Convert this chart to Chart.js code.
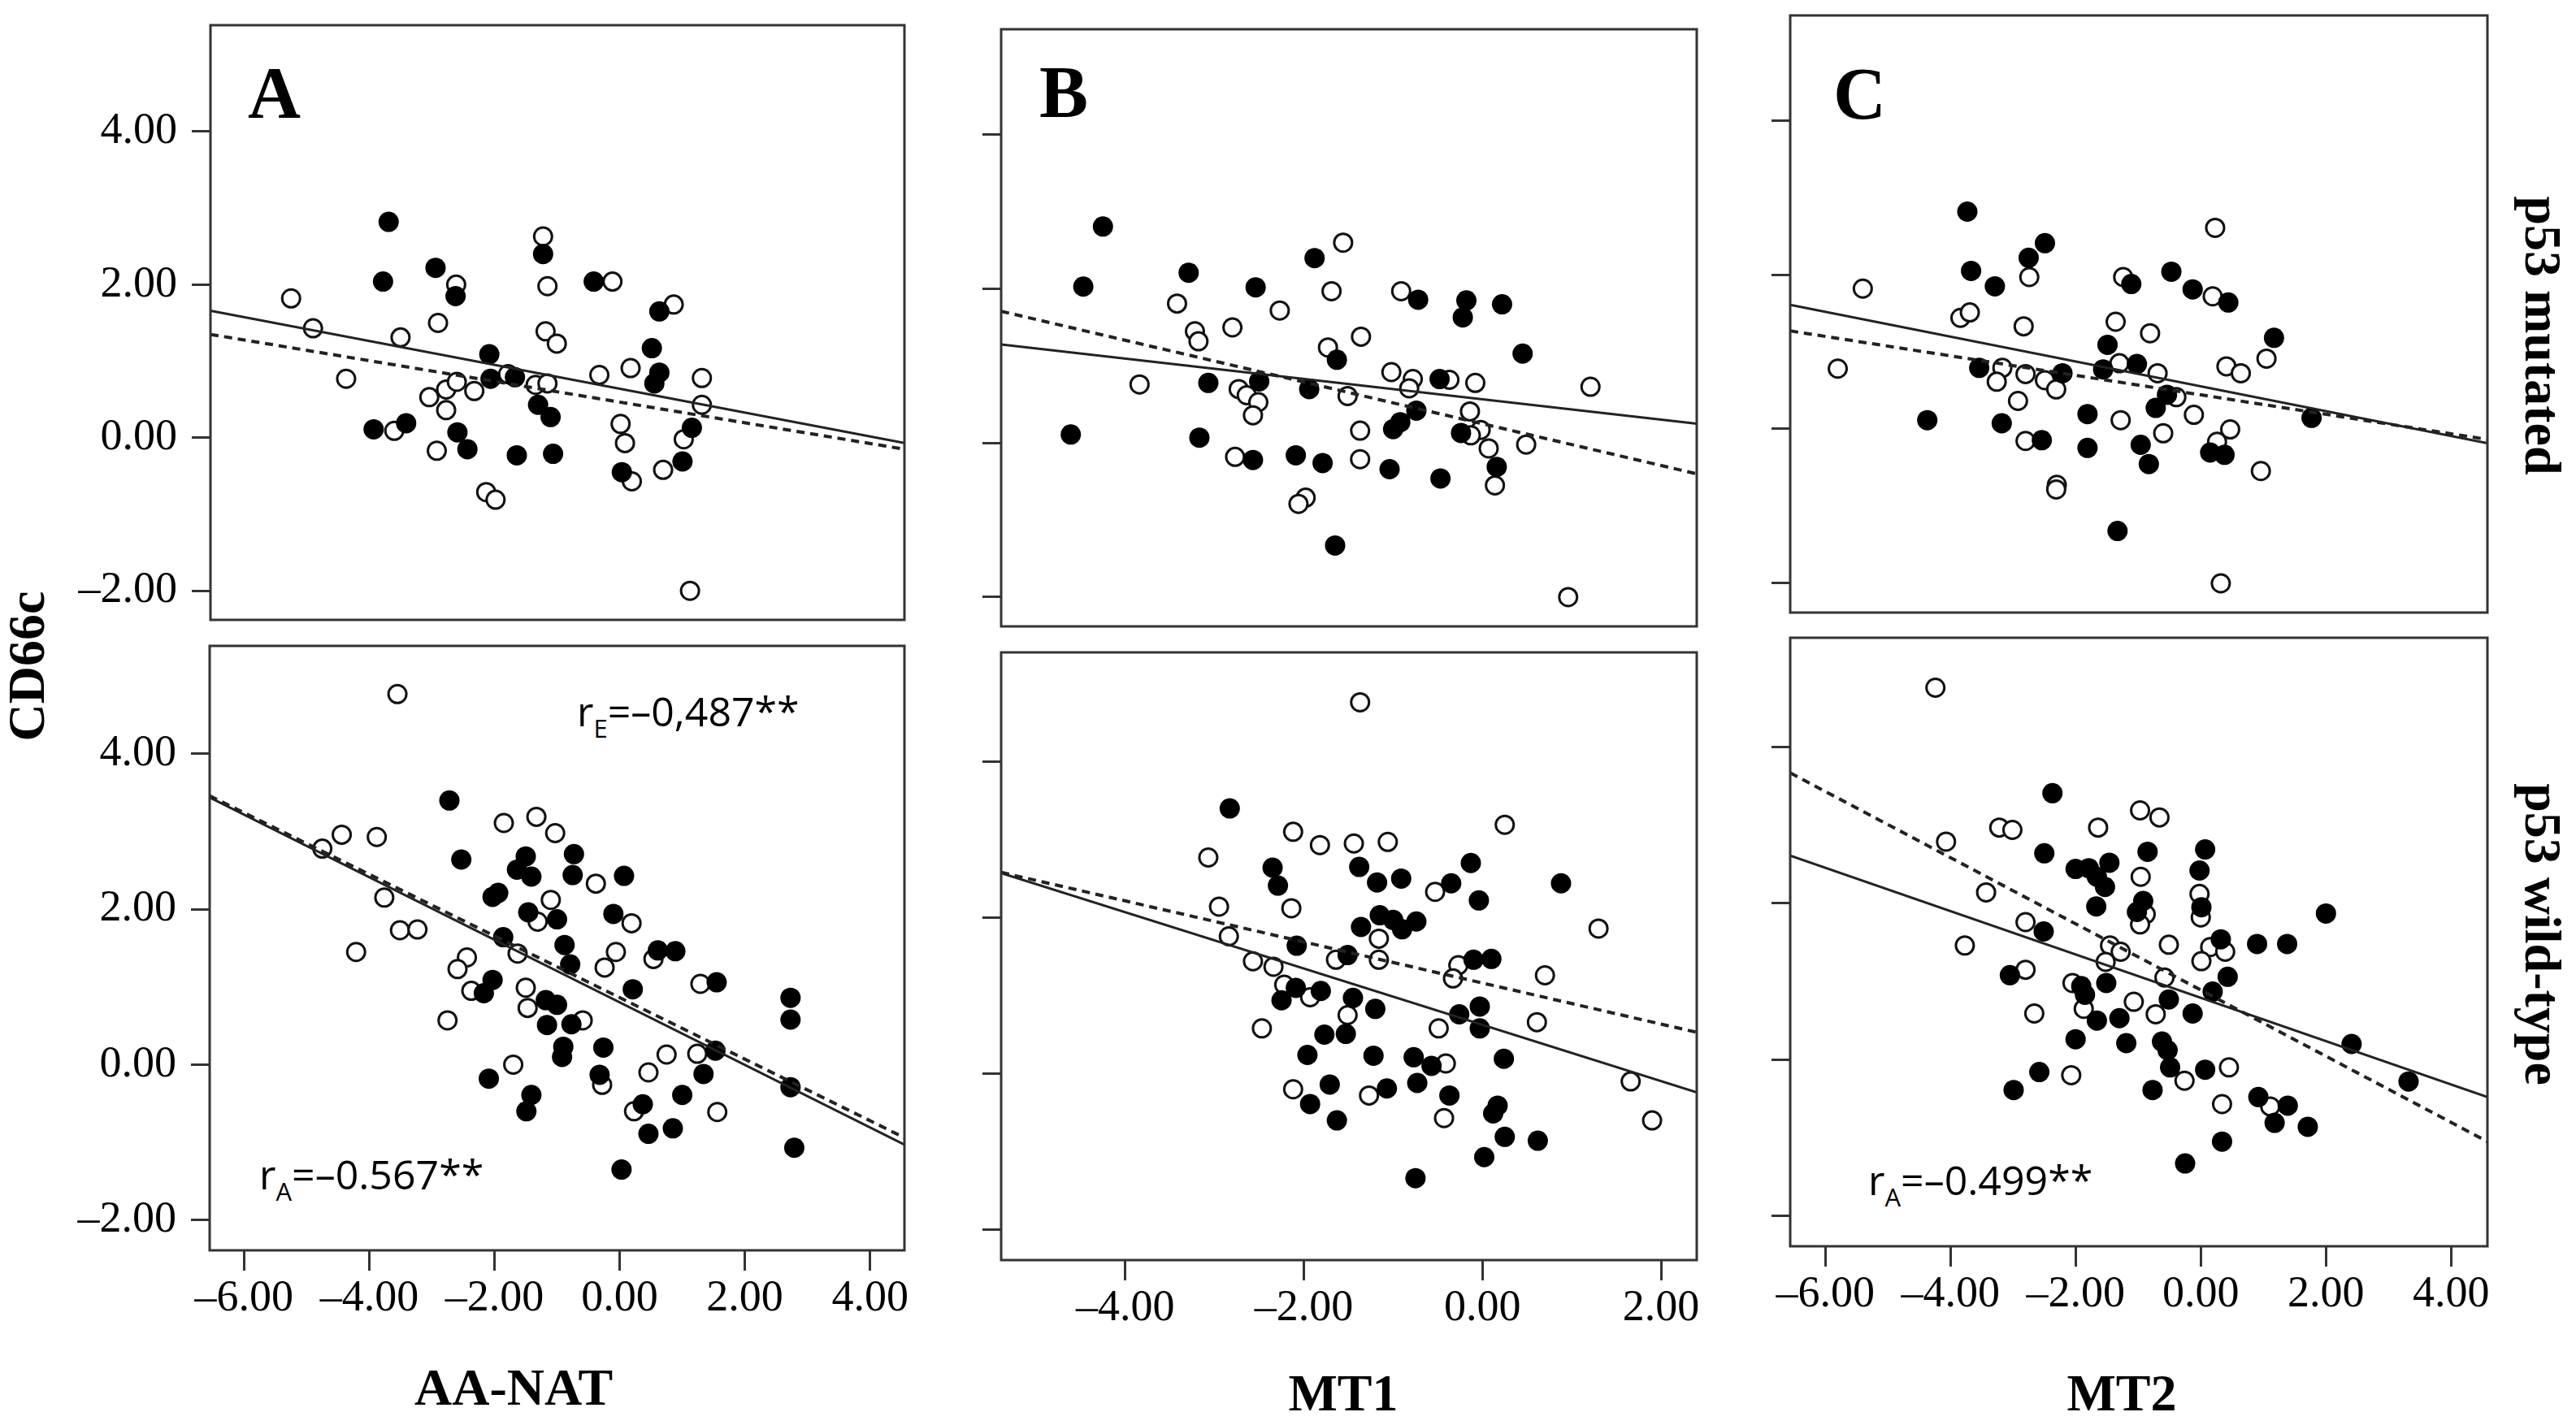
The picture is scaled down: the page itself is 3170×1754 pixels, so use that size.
<!DOCTYPE html>
<html>
<head>
<meta charset="utf-8">
<script src="https://cdn.jsdelivr.net/npm/chart.js@4.4.1/dist/chart.umd.min.js"></script>
<style>
  html, body { margin: 0; padding: 0; background: #fff; }
  body { width: 3170px; height: 1754px; position: relative; overflow: hidden; }
  canvas { position: absolute; }
  .lbl { position: absolute; font-family: 'Liberation Serif', 'Times New Roman', serif; font-weight: bold;
         color: #000; white-space: nowrap; line-height: 1; font-size: 64px; }
  .ctr { width: 600px; text-align: center; }
  .letter { font-size: 90px; }
  .rot { transform: translate(-50%, -50%) rotate(-90deg); }
  .rot90 { transform: translate(-50%, -50%) rotate(90deg); }
  .r { position: absolute; font-family: 'Open Sans', 'Noto Sans', sans-serif; font-size: 50px; line-height: 1;
       color: #000; white-space: nowrap; }
  .r span { font-size: 0.62em; vertical-align: -0.45em; }
</style>
</head>
<body>

<div class="lbl rot" style="left:33px; top:820px;">CD66c</div>
<div class="lbl rot90" style="left:3129px; top:413px;">p53 mutated</div>
<div class="lbl rot90" style="left:3129px; top:1150px;">p53 wild-type</div>

<div class="lbl ctr" style="left:332px; top:1676px;">AA-NAT</div>
<div class="lbl ctr" style="left:1353px; top:1683px;">MT1</div>
<div class="lbl ctr" style="left:2311px; top:1683px;">MT2</div>

<div class="lbl letter" style="left:305px; top:70px;">A</div>
<div class="lbl letter" style="left:1279px; top:69px;">B</div>
<div class="lbl letter" style="left:2256px; top:71px;">C</div>

<div class="r" style="left:710px; top:850px;">r<span>E</span>=–0,487**</div>
<div class="r" style="left:319px; top:1420px;">r<span>A</span>=–0.567**</div>
<div class="r" style="left:2299px; top:1427px;">r<span>A</span>=–0.499**</div>

<script>
// tick values
const yTicks = [-2, 0, 2, 4];
const xTicksWide = [-6, -4, -2, 0, 2, 4];
const xTicksMT1 = [-4, -2, 0, 2];

// axis limits
const yRange = [-2.39, 5.39];
const xRangeAA = [-6.55, 4.55];
const xRangeMT1 = [-5.39, 2.40];
const xRangeMT2 = [-6.56, 4.58];

// ---- A: AA-NAT, p53 mutated ----
const aTopOpen = [[-5.26,1.82],[-4.91,1.43],[-3.51,1.31],[-2.91,1.50],[-2.62,2.00],[-1.23,2.63],[-1.16,1.98],
  [-1.19,1.39],[-1.01,1.23],[-0.12,2.04],[0.86,1.74],[-4.38,0.77],[-3.05,0.53],[-2.78,0.63],[-2.61,0.73],
  [-2.33,0.61],[-2.78,0.36],[-1.79,0.83],[-1.35,0.69],[-1.16,0.71],[-0.33,0.82],[0.17,0.91],[1.31,0.78],
  [1.31,0.43],[-3.61,0.09],[-2.93,-0.17],[0.01,0.18],[0.08,-0.07],[1.02,-0.02],[0.69,-0.42],[0.19,-0.57],
  [-2.14,-0.71],[-1.99,-0.81],[1.12,-2.00]];
const aTopFilled = [[-3.70,2.82],[-3.79,2.04],[-2.95,2.22],[-2.63,1.85],[-1.23,2.40],[-0.42,2.04],[0.63,1.65],
  [0.51,1.17],[0.63,0.85],[0.55,0.71],[-2.09,1.09],[-2.07,0.77],[-1.68,0.79],[-1.31,0.43],[-1.11,0.27],
  [-3.94,0.11],[-3.42,0.19],[-2.60,0.07],[-2.44,-0.15],[-1.65,-0.23],[-1.07,-0.21],[1.15,0.13],[1.00,-0.31],
  [0.03,-0.45]];
const aTopSolid = [[-6.55,1.66],[4.55,-0.07]];
const aTopDashed = [[-6.55,1.35],[4.55,-0.15]];

// ---- A: AA-NAT, p53 wild-type ----
const aBotOpen = [[-3.55,4.77],[-4.75,2.78],[-4.44,2.96],[-3.88,2.93],[-3.76,2.15],[-3.51,1.73],[-3.23,1.74],
  [-4.21,1.45],[-1.85,3.11],[-1.33,3.19],[-1.03,2.98],[-0.38,2.33],[-1.10,2.12],[-1.31,1.84],[0.19,1.82],
  [-1.63,1.43],[-2.44,1.38],[-2.59,1.23],[-0.06,1.45],[-0.24,1.25],[-2.37,0.95],[-1.50,0.99],[-1.47,0.73],
  [-2.75,0.57],[-0.59,0.57],[0.54,1.36],[1.29,1.04],[1.24,0.14],[0.75,0.13],[-1.70,0.00],[0.46,-0.10],
  [-0.28,-0.26],[0.23,-0.60],[1.56,-0.61]];
const aBotFilled = [[-2.72,3.40],[-2.53,2.64],[-1.50,2.68],[-1.64,2.51],[-1.41,2.42],[-0.73,2.71],[-0.75,2.44],
  [0.07,2.43],[-2.03,2.16],[-1.94,2.21],[-1.46,1.96],[-1.00,1.87],[-0.10,1.94],[-1.86,1.64],[-0.88,1.54],
  [-0.79,1.29],[0.61,1.47],[0.89,1.46],[0.21,0.97],[1.55,1.06],[-2.03,1.09],[-2.17,0.92],[-1.18,0.83],
  [-1.00,0.77],[-1.16,0.51],[-0.77,0.52],[-0.90,0.23],[-0.92,0.10],[-0.26,0.22],[2.73,0.86],[2.73,0.58],
  [1.53,0.18],[1.34,-0.12],[-2.09,-0.18],[-0.32,-0.13],[2.73,-0.29],[1.00,-0.39],[-1.41,-0.39],[-1.49,-0.60],
  [0.37,-0.51],[0.46,-0.89],[0.85,-0.82],[2.79,-1.07],[0.03,-1.35]];
const aBotSolid = [[-6.55,3.44],[4.55,-1.03]];
const aBotDashed = [[-6.55,3.46],[4.55,-0.94]];

// ---- B: MT1, p53 mutated ----
const bTopOpen = [[-3.84,0.76],[-3.42,1.81],[-3.22,1.45],[-3.18,1.32],[-2.80,1.50],[-2.27,1.72],[-1.69,1.97],
  [-1.56,2.60],[-1.73,1.24],[-1.36,1.38],[-0.91,1.97],[-2.73,0.70],[-2.64,0.62],[-2.51,0.53],[-2.57,0.36],
  [-1.51,0.61],[-1.02,0.92],[-0.78,0.83],[-0.82,0.71],[-0.37,0.82],[-0.08,0.78],[-0.14,0.41],[-0.02,0.17],
  [-0.13,0.10],[0.07,-0.07],[0.49,-0.02],[0.14,-0.55],[1.21,0.73],[-1.37,0.16],[-2.77,-0.18],[-1.37,-0.21],
  [-1.98,-0.71],[-2.06,-0.79],[0.96,-2.00]];
const bTopFilled = [[-4.25,2.81],[-4.47,2.03],[-4.61,0.11],[-3.29,2.21],[-2.54,2.02],[-1.88,2.40],[-0.72,1.86],
  [-0.18,1.85],[-0.22,1.63],[0.22,1.80],[0.45,1.16],[-1.63,1.08],[-3.07,0.78],[-2.50,0.80],[-1.94,0.70],
  [-0.48,0.83],[-0.74,0.42],[-0.92,0.27],[-1.00,0.18],[-0.24,0.13],[-3.17,0.07],[-2.57,-0.22],[-2.09,-0.16],
  [-1.79,-0.26],[-1.04,-0.34],[-0.47,-0.46],[0.16,-0.31],[-1.65,-1.33]];
const bTopSolid = [[-5.39,1.28],[2.40,0.25]];
const bTopDashed = [[-5.39,1.71],[2.40,-0.40]];

// ---- B: MT1, p53 wild-type ----
const bBotOpen = [[-1.37,4.76],[-3.07,2.77],[-2.12,3.10],[-1.82,2.93],[-1.44,2.95],[-1.06,2.97],[0.25,3.19],
  [-2.95,2.14],[-2.14,2.12],[-0.53,2.33],[1.30,1.86],[-2.84,1.76],[-2.57,1.44],[-2.34,1.37],[-2.22,1.14],
  [-1.93,0.98],[-1.64,1.46],[-1.16,1.73],[-1.16,1.46],[-0.27,1.39],[-0.33,1.22],[0.70,1.26],[-1.51,0.75],
  [-2.47,0.58],[-0.49,0.58],[0.61,0.66],[-0.41,0.13],[-2.12,-0.20],[-1.27,-0.28],[-0.43,-0.57],[1.66,-0.10],
  [1.90,-0.60]];
const bBotFilled = [[-2.83,3.40],[-2.35,2.64],[-2.29,2.41],[-1.38,2.65],[-1.18,2.45],[-0.91,2.50],[-0.13,2.70],
  [-0.35,2.44],[-0.04,2.22],[0.88,2.44],[-1.15,2.03],[-1.00,1.97],[-0.90,1.85],[-0.74,1.95],[-1.36,1.88],
  [-2.08,1.64],[-1.51,1.52],[-0.10,1.46],[0.10,1.47],[-2.09,1.10],[-2.25,0.94],[-1.81,1.06],[-1.45,0.97],
  [-1.20,0.83],[-0.26,0.76],[-0.03,0.86],[-0.03,0.58],[-1.77,0.50],[-1.53,0.51],[-1.96,0.24],[-1.22,0.23],
  [-0.77,0.21],[-0.57,0.10],[0.24,0.19],[-1.71,-0.14],[-1.93,-0.39],[-1.07,-0.19],[-0.73,-0.12],[-0.37,-0.28],
  [0.17,-0.41],[0.12,-0.51],[-1.63,-0.60],[0.25,-0.81],[0.62,-0.86],[0.02,-1.07],[-0.75,-1.34]];
const bBotSolid = [[-5.39,2.57],[2.40,-0.24]];
const bBotDashed = [[-5.39,2.58],[2.40,0.53]];

// ---- C: MT2, p53 mutated ----
const cTopOpen = [[-5.40,1.82],[-5.80,0.78],[-3.84,1.44],[-3.69,1.51],[-2.83,1.33],[-2.74,1.97],[-1.24,1.97],
  [-1.36,1.39],[-0.81,1.24],[0.23,2.61],[0.19,1.72],[-3.17,0.79],[-3.26,0.61],[-2.80,0.71],[-2.49,0.63],
  [-2.31,0.51],[-2.92,0.36],[-1.30,0.85],[-0.69,0.72],[-0.39,0.41],[0.41,0.81],[0.64,0.72],[1.05,0.91],
  [-0.11,0.18],[0.47,-0.01],[-1.28,0.11],[-0.60,-0.06],[-2.80,-0.16],[0.26,-0.17],[0.96,-0.55],[-2.30,-0.73],
  [-2.31,-0.79],[0.32,-2.01]];
const cTopFilled = [[-3.73,2.82],[-2.49,2.41],[-2.75,2.22],[-3.67,2.05],[-3.29,1.85],[-1.11,1.88],[-0.47,2.04],
  [-0.13,1.81],[0.44,1.64],[1.17,1.18],[-1.49,1.09],[-3.54,0.79],[-2.21,0.72],[-1.56,0.77],[-1.02,0.84],
  [-0.54,0.44],[-0.72,0.27],[-4.37,0.11],[-3.18,0.07],[-1.81,0.19],[-2.54,-0.15],[-1.81,-0.25],[-0.96,-0.21],
  [-0.83,-0.46],[0.15,-0.31],[0.38,-0.34],[1.77,0.14],[-1.33,-1.33]];
const cTopSolid = [[-6.56,1.61],[4.58,-0.19]];
const cTopDashed = [[-6.56,1.27],[4.58,-0.14]];

// ---- C: MT2, p53 wild-type ----
const cBotOpen = [[-4.24,4.76],[-4.07,2.79],[-3.22,2.97],[-3.01,2.94],[-1.64,2.97],[-0.97,3.19],[-0.66,3.10],
  [-3.43,2.14],[-2.80,1.76],[-3.77,1.46],[-0.96,2.34],[-0.02,2.12],[0.00,1.82],[-0.88,1.86],[-0.97,1.73],
  [-1.45,1.46],[-1.28,1.38],[-1.52,1.25],[-0.51,1.47],[0.15,1.44],[0.39,1.38],[0.01,1.26],[-2.80,1.15],
  [-2.05,0.98],[-0.58,1.05],[-1.07,0.74],[-1.87,0.65],[-0.72,0.58],[-2.66,0.59],[-2.07,-0.20],[0.45,-0.10],
  [-0.26,-0.27],[0.34,-0.57],[1.11,-0.60]];
const cBotFilled = [[-2.37,3.41],[-2.50,2.64],[-0.85,2.66],[0.07,2.69],[-2.00,2.44],[-1.79,2.45],[-1.46,2.52],
  [-1.66,2.34],[-1.53,2.21],[-0.02,2.42],[-1.67,1.96],[-0.92,2.03],[-1.02,1.89],[0.01,1.95],[2.00,1.87],
  [-2.51,1.64],[0.32,1.54],[0.90,1.48],[1.38,1.48],[0.43,1.06],[-3.05,1.08],[-1.91,0.94],[-1.85,0.83],
  [-1.51,0.98],[0.19,0.87],[-0.51,0.77],[-0.13,0.59],[-1.66,0.50],[-1.30,0.53],[-2.00,0.26],[-1.19,0.21],
  [-0.62,0.23],[-0.53,0.12],[-0.49,-0.10],[0.07,-0.13],[2.41,0.20],[3.32,-0.28],[-2.58,-0.16],[-2.99,-0.39],
  [-0.77,-0.39],[0.92,-0.48],[1.39,-0.59],[1.18,-0.81],[1.71,-0.86],[0.34,-1.05],[-0.25,-1.33]];
const cBotSolid = [[-6.56,2.61],[4.58,-0.48]];
const cBotDashed = [[-6.56,3.67],[4.58,-1.05]];

// panel placement (plot-area box in page pixels)
const panels = [
  { left: 259,  top: 31,  width: 854, height: 742, xr: xRangeAA,  xt: null,       yLabels: true,
    open: aTopOpen, filled: aTopFilled, solid: aTopSolid, dashed: aTopDashed, yr: [-2.38, 5.39] },
  { left: 258,  top: 795, width: 855, height: 744, xr: xRangeAA,  xt: xTicksWide, yLabels: true,
    open: aBotOpen, filled: aBotFilled, solid: aBotSolid, dashed: aBotDashed, yr: yRange },
  { left: 1232, top: 36,  width: 856, height: 745, xr: xRangeMT1, xt: null,       yLabels: false,
    open: bTopOpen, filled: bTopFilled, solid: bTopSolid, dashed: bTopDashed, yr: [-2.38, 5.37] },
  { left: 1232, top: 803, width: 856, height: 748, xr: xRangeMT1, xt: xTicksMT1,  yLabels: false,
    open: bBotOpen, filled: bBotFilled, solid: bBotSolid, dashed: bBotDashed, yr: [-2.39, 5.40] },
  { left: 2203, top: 19,  width: 858, height: 745, xr: xRangeMT2, xt: null,       yLabels: false,
    open: cTopOpen, filled: cTopFilled, solid: cTopSolid, dashed: cTopDashed, yr: [-2.39, 5.37] },
  { left: 2203, top: 785, width: 858, height: 749, xr: xRangeMT2, xt: xTicksWide, yLabels: false,
    open: cBotOpen, filled: cBotFilled, solid: cBotSolid, dashed: cBotDashed, yr: [-2.39, 5.40] }
];

const toPts = arr => arr.map(([x, y]) => ({ x, y }));
const fmt = v => (v < 0 ? '–' : '') + Math.abs(v).toFixed(2);
const tickFont = { family: "'Liberation Serif', 'Times New Roman', serif", size: 54 };

// box round the plot area
const frame = {
  id: 'frame',
  afterDraw(chart) {
    const { ctx, chartArea: a } = chart;
    ctx.save();
    ctx.strokeStyle = '#333';
    ctx.lineWidth = 3;
    ctx.strokeRect(a.left, a.top, a.right - a.left, a.bottom - a.top);
    ctx.restore();
  }
};

function fitLine(pts, dash) {
  return {
    type: 'line', data: toPts(pts), showLine: true, borderColor: '#222',
    borderWidth: dash.length ? 4 : 3, borderDash: dash, pointRadius: 0, fill: false, tension: 0, order: 0
  };
}

function makePanel(p) {
  const ml = p.yLabels ? p.left : 40;
  const mt = 15, mr = 30;
  const mb = p.xt ? 110 : 10;
  const w = p.width + ml + mr, h = p.height + mt + mb;
  const canvas = document.createElement('canvas');
  canvas.width = w; canvas.height = h;
  canvas.style.width = w + 'px'; canvas.style.height = h + 'px';
  canvas.style.left = (p.left - ml) + 'px';
  canvas.style.top = (p.top - mt) + 'px';
  document.body.appendChild(canvas);

  new Chart(canvas, {
    type: 'scatter',
    data: {
      datasets: [
        fitLine(p.solid, []),
        fitLine(p.dashed, [10, 7]),
        { data: toPts(p.filled), pointRadius: 12.5, pointBackgroundColor: '#000',
          pointBorderColor: '#000', pointBorderWidth: 0, order: 1 },
        { data: toPts(p.open), pointRadius: 11, pointBackgroundColor: '#fff',
          pointBorderColor: '#111', pointBorderWidth: 3, order: 2 }
      ]
    },
    options: {
      responsive: false, animation: false, devicePixelRatio: 1,
      layout: { padding: { top: mt, right: mr, left: 0, bottom: p.xt ? 0 : mb } },
      plugins: { legend: { display: false }, tooltip: { enabled: false } },
      scales: {
        x: {
          type: 'linear', min: p.xr[0], max: p.xr[1], display: !!p.xt,
          afterFit: a => { a.height = mb; a.paddingLeft = 0; a.paddingRight = 0; },
          afterBuildTicks: a => { a.ticks = (p.xt || []).map(v => ({ value: v })); },
          border: { display: false },
          grid: { drawOnChartArea: false, drawTicks: true, tickLength: 25, color: '#333', lineWidth: 3 },
          ticks: { font: tickFont, color: '#000', padding: 2, maxRotation: 0, callback: fmt }
        },
        y: {
          type: 'linear', min: p.yr[0], max: p.yr[1],
          afterFit: a => { a.width = ml; a.paddingTop = 0; a.paddingBottom = 0; },
          afterBuildTicks: a => { a.ticks = yTicks.map(v => ({ value: v })); },
          border: { display: false },
          grid: { drawOnChartArea: false, drawTicks: true, tickLength: 23, color: '#333', lineWidth: 3 },
          ticks: { display: p.yLabels, font: tickFont, color: '#000', padding: 18, callback: fmt }
        }
      }
    },
    plugins: [frame]
  });
}

panels.forEach(makePanel);
</script>
</body>
</html>
